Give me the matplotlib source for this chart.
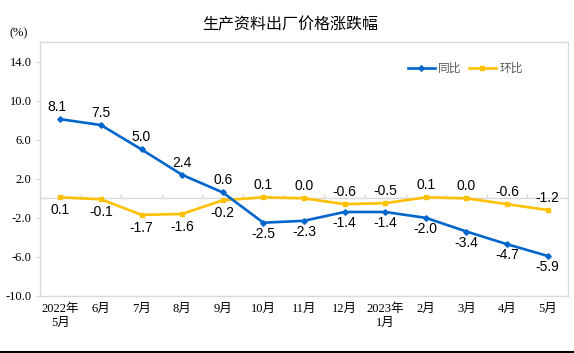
import matplotlib.pyplot as plt
import numpy as np

# 生产资料出厂价格涨跌幅 (%)
months = ["2022年\n5月", "6月", "7月", "8月", "9月", "10月", "11月", "12月",
          "2023年\n1月", "2月", "3月", "4月", "5月"]
yoy = [8.1, 7.5, 5.0, 2.4, 0.6, -2.5, -2.3, -1.4, -1.4, -2.0, -3.4, -4.7, -5.9]
mom = [0.1, -0.1, -1.7, -1.6, -0.2, 0.1, 0.0, -0.6, -0.5, 0.1, 0.0, -0.6, -1.2]
yticks = [-10, -6, -2, 2, 6, 10, 14]

blue = "#0066CC"
yellow = "#FFC000"
grey = "#D9D9D9"
serif = ["Liberation Serif", "Noto Sans CJK SC"]
sans = ["Liberation Sans", "Noto Sans CJK SC"]

fig = plt.figure(figsize=(5.74, 3.53), dpi=100)
ax = fig.add_axes([0.0697, 0.1615, 0.9198, 0.7195])

x = np.arange(len(months))
ax.plot(x, yoy, color=blue, lw=1.9, marker="D", ms=2.8, label="同比", zorder=3)
ax.plot(x, mom, color=yellow, lw=1.9, marker="s", ms=2.8, label="环比", zorder=2)

# zero line with category tick marks
ax.axhline(0, color=grey, lw=1, zorder=1)
ax.vlines(x[:-1] + 0.5, 0, 0.4, color=grey, lw=1, zorder=1)

# data labels
for i, v in enumerate(yoy):
    dy = 12 if i < 5 else -11
    ax.annotate(f"{v:.1f}", (i, v), xytext=(-3 if i == 0 else 0, dy),
                textcoords="offset pixels", ha="center", va="center",
                fontsize=10, family=sans, color="black")
for i, v in enumerate(mom):
    dy = -13 if i < 5 else 12
    ax.annotate(f"{v:.1f}", (i, v), xytext=(0, dy),
                textcoords="offset pixels", ha="center", va="center",
                fontsize=10, family=sans, color="black")

ax.set_xlim(-0.5, len(months) - 0.5)
ax.set_ylim(-10, 16)
ax.set_yticks(yticks)
ax.set_yticklabels([f"{t:.1f}" for t in yticks], family=serif, fontsize=9)
ax.set_xticks(x)
ax.set_xticklabels(months, family=serif, fontsize=9, linespacing=1.25)
ax.tick_params(axis="x", length=0, pad=5)
ax.tick_params(axis="y", length=3, color=grey, pad=3)
for s in ax.spines.values():
    s.set_color(grey)
    s.set_linewidth(1)

leg = ax.legend(loc="upper right", bbox_to_anchor=(0.935, 0.96), ncol=2,
                frameon=False, prop={"family": sans, "size": 8.5},
                handlelength=2.3, handletextpad=0.3, columnspacing=0.6)
for t in leg.get_texts():
    t.set_color("#595959")

fig.text(0.505, 0.93, "生产资料出厂价格涨跌幅", ha="center", va="center",
         fontsize=11.5, family=["Noto Sans CJK SC"])
fig.text(0.033, 0.905, "(%)", ha="center", va="center", fontsize=9, family=serif)

# bottom border line
fig.add_artist(plt.Line2D([0, 1], [0.004, 0.004], color="black", lw=1.5))

fig.savefig("out.png", dpi=100)
